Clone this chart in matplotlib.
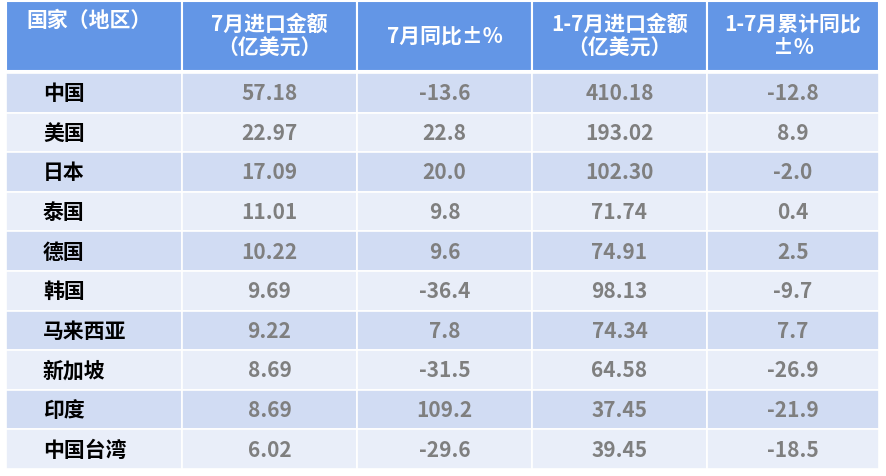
import matplotlib.pyplot as plt
from matplotlib.patches import Rectangle

plt.rcParams['font.family'] = ['Noto Sans CJK SC', 'DejaVu Sans']

headers = ['国家（地区）', '7月进口金额\n（亿美元）', '7月同比±%', '1-7月进口金额\n（亿美元）', '1-7月累计同比\n±%']
countries = ['中国', '美国', '日本', '泰国', '德国', '韩国', '马来西亚', '新加坡', '印度', '中国台湾']
jul_amount = ['57.18', '22.97', '17.09', '11.01', '10.22', '9.69', '9.22', '8.69', '8.69', '6.02']
jul_yoy = ['-13.6', '22.8', '20.0', '9.8', '9.6', '-36.4', '7.8', '-31.5', '109.2', '-29.6']
ytd_amount = ['410.18', '193.02', '102.30', '71.74', '74.91', '98.13', '74.34', '64.58', '37.45', '39.45']
ytd_yoy = ['-12.8', '8.9', '-2.0', '0.4', '2.5', '-9.7', '7.7', '-26.9', '-21.9', '-18.5']

col_edges = [6, 182, 357, 532, 707, 879]
head_top, head_bot = 2, 72
row_top, row_h = 74, 39.6

fig = plt.figure(figsize=(8.86, 4.77), dpi=100)
ax = fig.add_axes([0, 0, 1, 1])
ax.set_xlim(0, 886)
ax.set_ylim(477, 0)
ax.axis('off')

for j, h in enumerate(headers):
    x0, x1 = col_edges[j], col_edges[j + 1]
    ax.add_patch(Rectangle((x0, head_top), x1 - x0, head_bot - head_top,
                           facecolor='#6396E6', edgecolor='white', lw=1.5))
    if j == 0:
        ax.text(x0 + 20, 20, h, ha='left', va='center', color='white',
                fontsize=15, fontweight='bold')
    else:
        ax.text((x0 + x1) / 2, 36, h, ha='center', va='center', color='white',
                fontsize=15, fontweight='bold', linespacing=1.15)

cols = [jul_amount, jul_yoy, ytd_amount, ytd_yoy]
for i, c in enumerate(countries):
    y0 = row_top + i * row_h
    fc = '#D1DCF3' if i % 2 == 0 else '#E9EEF9'
    for j in range(5):
        x0, x1 = col_edges[j], col_edges[j + 1]
        ax.add_patch(Rectangle((x0, y0), x1 - x0, row_h, facecolor=fc,
                               edgecolor='white', lw=1.2))
    yc = y0 + row_h / 2
    ax.text(43, yc, c, ha='left', va='center', color='black',
            fontsize=15, fontweight='bold')
    for j, vals in enumerate(cols):
        x0, x1 = col_edges[j + 1], col_edges[j + 2]
        ax.text((x0 + x1) / 2, yc, vals[i], ha='center', va='center',
                color='#7F7F7F', fontsize=15, fontweight='bold')

fig.savefig('out.png', dpi=100)
